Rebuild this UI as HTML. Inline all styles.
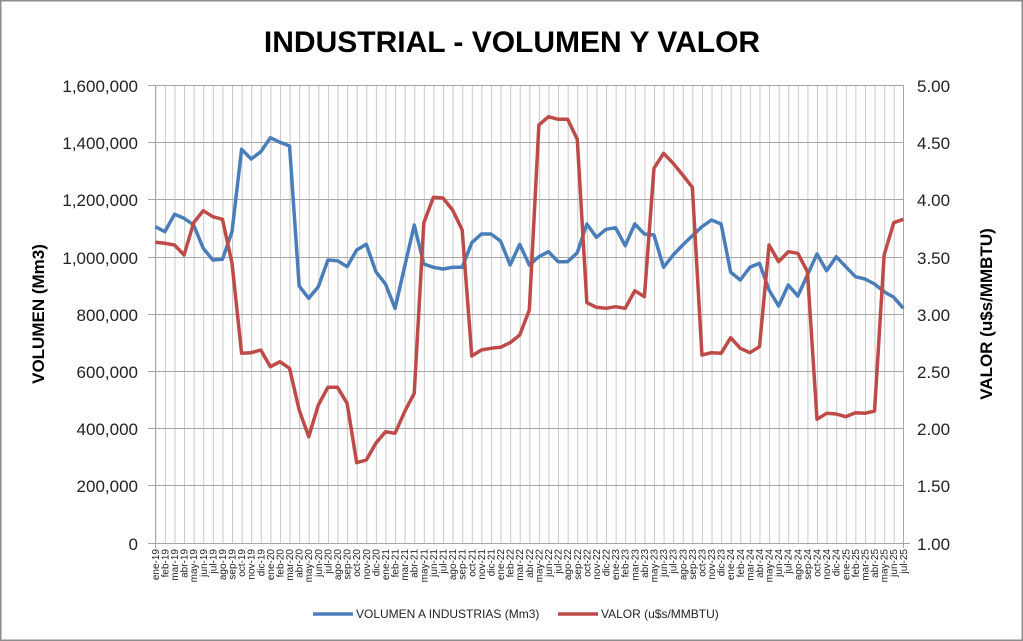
<!DOCTYPE html>
<html><head><meta charset="utf-8"><style>
html,body{margin:0;padding:0;background:#fff}
svg{display:block;font-family:"Liberation Sans",Arial,sans-serif}
</style></head><body>
<svg width="1023" height="641" viewBox="0 0 1023 641" xmlns="http://www.w3.org/2000/svg">
<defs>
<pattern id="vg" x="155.3" y="0" width="9.59" height="641" patternUnits="userSpaceOnUse">
<rect x="0" y="0" width="1" height="641" fill="#c8c8c8"/>
</pattern>
</defs>
<rect x="0.5" y="0.5" width="1022" height="640" fill="#fff" stroke="#8c8c8c" stroke-width="2"/>
<text x="512" y="52" text-anchor="middle" font-size="30" font-weight="bold" fill="#000">INDUSTRIAL - VOLUMEN Y VALOR</text>
<rect x="155" y="85" width="749" height="458" fill="url(#vg)"/>
<g stroke="#a6a6a6" stroke-width="1">
<line x1="148" y1="85.5" x2="904" y2="85.5"/>
<line x1="148" y1="142.5" x2="904" y2="142.5"/>
<line x1="148" y1="199.5" x2="904" y2="199.5"/>
<line x1="148" y1="257.5" x2="904" y2="257.5"/>
<line x1="148" y1="314.5" x2="904" y2="314.5"/>
<line x1="148" y1="371.5" x2="904" y2="371.5"/>
<line x1="148" y1="428.5" x2="904" y2="428.5"/>
<line x1="148" y1="485.5" x2="904" y2="485.5"/>
<line x1="148" y1="543.5" x2="910" y2="543.5"/>
<line x1="155.5" y1="85" x2="155.5" y2="548"/>
<line x1="903.5" y1="85" x2="903.5" y2="548"/>
</g>
<g font-size="17" fill="#222" text-anchor="end">
<text x="138" y="92">1,600,000</text>
<text x="138" y="149">1,400,000</text>
<text x="138" y="206">1,200,000</text>
<text x="138" y="264">1,000,000</text>
<text x="138" y="321">800,000</text>
<text x="138" y="378">600,000</text>
<text x="138" y="435">400,000</text>
<text x="138" y="492">200,000</text>
<text x="138" y="550">0</text>
</g>
<g font-size="17" fill="#222" text-anchor="start">
<text x="917" y="92">5.00</text>
<text x="917" y="149">4.50</text>
<text x="917" y="206">4.00</text>
<text x="917" y="264">3.50</text>
<text x="917" y="321">3.00</text>
<text x="917" y="378">2.50</text>
<text x="917" y="435">2.00</text>
<text x="917" y="492">1.50</text>
<text x="917" y="550">1.00</text>
</g>
<text transform="translate(44,314) rotate(-90)" text-anchor="middle" font-size="17" font-weight="bold">VOLUMEN (Mm3)</text>
<text transform="translate(992,314) rotate(-90)" text-anchor="middle" font-size="17" font-weight="bold">VALOR (u$s/MMBTU)</text>
<g transform="translate(155.3,0) scale(9.59,1)" fill="none" stroke-linejoin="round">
<polyline vector-effect="non-scaling-stroke" stroke="#4a7ebb" stroke-width="3.5" points="0,226.7 1,231.7 2,214.3 3,218.3 4,225 5,248.3 6,260 7,259.3 8,231.7 9,149.3 10,159 11,151.7 12,137.7 13,142.3 14,146 15,286 16,298.3 17,286.7 18,260 19,260.7 20,266.7 21,250 22,244.3 23,271.7 24,284 25,308.3 26,266.7 27,225 28,264 29,267.3 30,269 31,267.3 32,267.3 33,242.7 34,234 35,234 36,241 37,265 38,244.3 39,265 40,256.7 41,251.7 42,261.7 43,261.7 44,252.7 45,224 46,237.3 47,229.3 48,227.7 49,245.7 50,224 51,234 52,235 53,267.3 54,255 55,245 56,235.7 57,226.7 58,220 59,224 60,272.3 61,280 62,267.3 63,263.3 64,290 65,306 66,285 67,296 68,275 69,254 70,270.7 71,256.7 72,266.7 73,276.7 74,279 75,284 76,291.7 77,297.3 78,308.3"/>
<polyline vector-effect="non-scaling-stroke" stroke="#be4b48" stroke-width="3.5" points="0,242.3 1,243.3 2,245 3,255 4,222.7 5,210.7 6,216.7 7,219.3 8,263.3 9,353.3 10,352.7 11,350 12,366.7 13,361.7 14,368.3 15,410 16,436.7 17,405 18,387.3 19,387.3 20,403.3 21,462.7 22,460 23,443.3 24,431.7 25,433.3 26,411.7 27,393.3 28,222.7 29,197.3 30,198 31,210 32,230 33,356 34,350 35,348.3 36,347.3 37,342.7 38,335 39,310 40,125 41,116.7 42,119.3 43,119.3 44,139.3 45,302.7 46,307.3 47,308.3 48,306.7 49,308.3 50,290.7 51,296.7 52,168.3 53,153.3 54,163.3 55,175 56,187.3 57,355 58,352.7 59,353.3 60,337.7 61,348.3 62,352.7 63,346.7 64,245 65,261.7 66,251.7 67,253.3 68,271.7 69,419.3 70,413.3 71,414 72,416.7 73,412.7 74,413.3 75,411 76,255 77,222.7 78,219.3"/>
</g>
<g font-size="10" fill="#222" text-anchor="end">
<text transform="translate(158.8,549) rotate(-90)">ene-19</text>
<text transform="translate(168.4,549) rotate(-90)">feb-19</text>
<text transform="translate(178.0,549) rotate(-90)">mar-19</text>
<text transform="translate(187.6,549) rotate(-90)">abr-19</text>
<text transform="translate(197.2,549) rotate(-90)">may-19</text>
<text transform="translate(206.8,549) rotate(-90)">jun-19</text>
<text transform="translate(216.3,549) rotate(-90)">jul-19</text>
<text transform="translate(225.9,549) rotate(-90)">ago-19</text>
<text transform="translate(235.5,549) rotate(-90)">sep-19</text>
<text transform="translate(245.1,549) rotate(-90)">oct-19</text>
<text transform="translate(254.7,549) rotate(-90)">nov-19</text>
<text transform="translate(264.3,549) rotate(-90)">dic-19</text>
<text transform="translate(273.9,549) rotate(-90)">ene-20</text>
<text transform="translate(283.5,549) rotate(-90)">feb-20</text>
<text transform="translate(293.1,549) rotate(-90)">mar-20</text>
<text transform="translate(302.7,549) rotate(-90)">abr-20</text>
<text transform="translate(312.2,549) rotate(-90)">may-20</text>
<text transform="translate(321.8,549) rotate(-90)">jun-20</text>
<text transform="translate(331.4,549) rotate(-90)">jul-20</text>
<text transform="translate(341.0,549) rotate(-90)">ago-20</text>
<text transform="translate(350.6,549) rotate(-90)">sep-20</text>
<text transform="translate(360.2,549) rotate(-90)">oct-20</text>
<text transform="translate(369.8,549) rotate(-90)">nov-20</text>
<text transform="translate(379.4,549) rotate(-90)">dic-20</text>
<text transform="translate(389.0,549) rotate(-90)">ene-21</text>
<text transform="translate(398.6,549) rotate(-90)">feb-21</text>
<text transform="translate(408.1,549) rotate(-90)">mar-21</text>
<text transform="translate(417.7,549) rotate(-90)">abr-21</text>
<text transform="translate(427.3,549) rotate(-90)">may-21</text>
<text transform="translate(436.9,549) rotate(-90)">jun-21</text>
<text transform="translate(446.5,549) rotate(-90)">jul-21</text>
<text transform="translate(456.1,549) rotate(-90)">ago-21</text>
<text transform="translate(465.7,549) rotate(-90)">sep-21</text>
<text transform="translate(475.3,549) rotate(-90)">oct-21</text>
<text transform="translate(484.9,549) rotate(-90)">nov-21</text>
<text transform="translate(494.5,549) rotate(-90)">dic-21</text>
<text transform="translate(504.0,549) rotate(-90)">ene-22</text>
<text transform="translate(513.6,549) rotate(-90)">feb-22</text>
<text transform="translate(523.2,549) rotate(-90)">mar-22</text>
<text transform="translate(532.8,549) rotate(-90)">abr-22</text>
<text transform="translate(542.4,549) rotate(-90)">may-22</text>
<text transform="translate(552.0,549) rotate(-90)">jun-22</text>
<text transform="translate(561.6,549) rotate(-90)">jul-22</text>
<text transform="translate(571.2,549) rotate(-90)">ago-22</text>
<text transform="translate(580.8,549) rotate(-90)">sep-22</text>
<text transform="translate(590.4,549) rotate(-90)">oct-22</text>
<text transform="translate(599.9,549) rotate(-90)">nov-22</text>
<text transform="translate(609.5,549) rotate(-90)">dic-22</text>
<text transform="translate(619.1,549) rotate(-90)">ene-23</text>
<text transform="translate(628.7,549) rotate(-90)">feb-23</text>
<text transform="translate(638.3,549) rotate(-90)">mar-23</text>
<text transform="translate(647.9,549) rotate(-90)">abr-23</text>
<text transform="translate(657.5,549) rotate(-90)">may-23</text>
<text transform="translate(667.1,549) rotate(-90)">jun-23</text>
<text transform="translate(676.7,549) rotate(-90)">jul-23</text>
<text transform="translate(686.3,549) rotate(-90)">ago-23</text>
<text transform="translate(695.8,549) rotate(-90)">sep-23</text>
<text transform="translate(705.4,549) rotate(-90)">oct-23</text>
<text transform="translate(715.0,549) rotate(-90)">nov-23</text>
<text transform="translate(724.6,549) rotate(-90)">dic-23</text>
<text transform="translate(734.2,549) rotate(-90)">ene-24</text>
<text transform="translate(743.8,549) rotate(-90)">feb-24</text>
<text transform="translate(753.4,549) rotate(-90)">mar-24</text>
<text transform="translate(763.0,549) rotate(-90)">abr-24</text>
<text transform="translate(772.6,549) rotate(-90)">may-24</text>
<text transform="translate(782.2,549) rotate(-90)">jun-24</text>
<text transform="translate(791.7,549) rotate(-90)">jul-24</text>
<text transform="translate(801.3,549) rotate(-90)">ago-24</text>
<text transform="translate(810.9,549) rotate(-90)">sep-24</text>
<text transform="translate(820.5,549) rotate(-90)">oct-24</text>
<text transform="translate(830.1,549) rotate(-90)">nov-24</text>
<text transform="translate(839.7,549) rotate(-90)">dic-24</text>
<text transform="translate(849.3,549) rotate(-90)">ene-25</text>
<text transform="translate(858.9,549) rotate(-90)">feb-25</text>
<text transform="translate(868.5,549) rotate(-90)">mar-25</text>
<text transform="translate(878.1,549) rotate(-90)">abr-25</text>
<text transform="translate(887.6,549) rotate(-90)">may-25</text>
<text transform="translate(897.2,549) rotate(-90)">jun-25</text>
<text transform="translate(906.8,549) rotate(-90)">jul-25</text>
</g>
<line x1="313" y1="614" x2="353" y2="614" stroke="#4a7ebb" stroke-width="3.5"/>
<text x="356" y="618" font-size="12" fill="#222">VOLUMEN A INDUSTRIAS (Mm3)</text>
<line x1="558" y1="614" x2="598" y2="614" stroke="#be4b48" stroke-width="3.5"/>
<text x="601" y="618" font-size="12" fill="#222">VALOR (u$s/MMBTU)</text>
</svg>
</body></html>
